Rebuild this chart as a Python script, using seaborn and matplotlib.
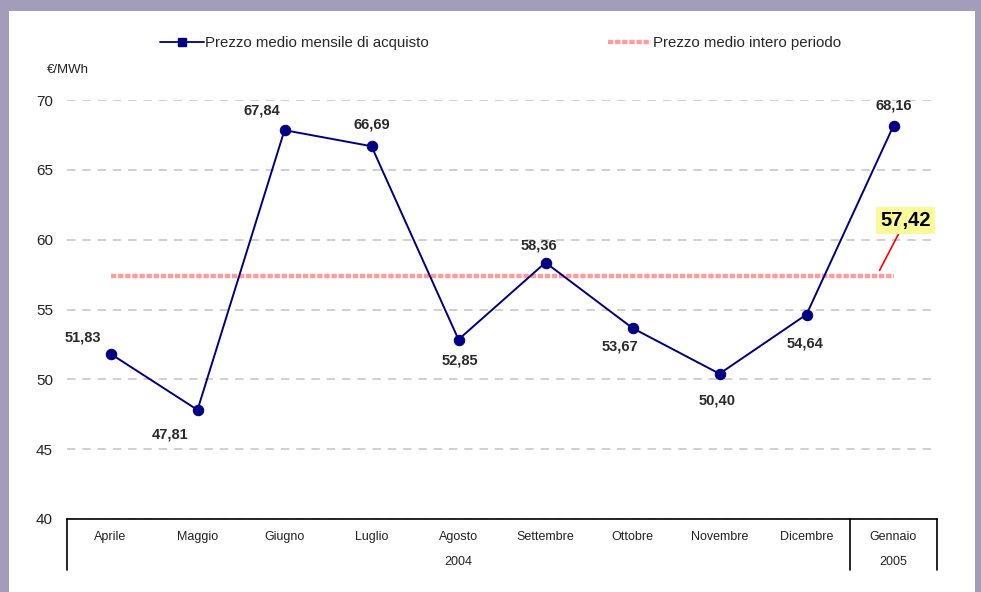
import pandas as pd
import matplotlib.pyplot as plt
import seaborn as sns
from matplotlib.lines import Line2D
from matplotlib.patches import Rectangle
import matplotlib.transforms as mtransforms

# Data
months = ["Aprile", "Maggio", "Giugno", "Luglio", "Agosto", "Settembre",
          "Ottobre", "Novembre", "Dicembre", "Gennaio"]
years = ["2004", "2005"]
prices = [51.83, 47.81, 67.84, 66.69, 52.85, 58.36, 53.67, 50.40, 54.64, 68.16]
mean_price = 57.42

df = pd.DataFrame({"pos": range(len(months)), "mese": months, "prezzo": prices,
                   "media": [mean_price] * len(months)})

# label offsets in points (dx, dy)
label_offsets = [(-20, 11.5), (-19.5, -18), (-16, 14.5), (0, 16), (1, -15),
                 (-5, 12), (-9, -13), (-2, -19), (-1, -21), (0, 14.5)]

sns.set_style("white")
plt.rcParams["font.family"] = ["Liberation Sans", "DejaVu Sans"]

W, H = 981, 592
fig = plt.figure(figsize=(W / 100, H / 100), dpi=100)
fig.patch.set_facecolor("#a49db9")
bg = Rectangle((9 / W, 0), (975 - 9) / W, (592 - 11) / H, transform=fig.transFigure,
               facecolor="white", edgecolor="none", zorder=-10)
fig.add_artist(bg)

ax = fig.add_axes([67 / W, 73 / H, (937 - 67) / W, (519 - 100) / H])
ax.set_facecolor("none")

NAVY = "#000080"
sns.lineplot(data=df, x="pos", y="media", ax=ax, color="#ff9c9c", linewidth=3.2,
             linestyle=(0, (1.2, 0.4)), zorder=2)
sns.lineplot(data=df, x="pos", y="prezzo", ax=ax, color=NAVY, linewidth=1.4,
             marker="o", markersize=7.5, markeredgecolor=NAVY, zorder=3)

for (i, v), (dx, dy) in zip(enumerate(prices), label_offsets):
    ax.annotate(f"{v:.2f}".replace(".", ","), (i, v), xytext=(dx, dy),
                textcoords="offset points", ha="center", va="center",
                fontsize=10.5, fontweight="bold", color="#2a2a2a")

# mean annotation
ax.annotate(f"{mean_price:.2f}".replace(".", ","), xy=(8.84, 57.8),
            xytext=(9.14, 61.4), ha="center", va="center", fontsize=14.5,
            fontweight="bold", color="black",
            bbox=dict(boxstyle="square,pad=0.2", facecolor="#fafa9a", edgecolor="none"),
            arrowprops=dict(arrowstyle="-", color="red", lw=1.2, shrinkA=0, shrinkB=0))

ax.set_xlim(-0.5, len(months) - 0.5)
ax.set_ylim(40, 70)
ax.set_yticks(range(40, 71, 5))
ax.yaxis.grid(True, linestyle=(0, (5.5, 4.5)), color="#c4c4c4", linewidth=1.1)
ax.set_axisbelow(True)
ax.tick_params(axis="y", length=0, pad=10, labelsize=11, labelcolor="#222222")
ax.set_xticks([])
ax.set_xlabel("")
ax.set_ylabel("")
for s in ["left", "right", "top"]:
    ax.spines[s].set_visible(False)
ax.spines["bottom"].set_color("black")
ax.spines["bottom"].set_linewidth(1.2)

# category table below axis
trans = mtransforms.blended_transform_factory(ax.transData, ax.transAxes)
depth = -(570 - 519) / (519 - 100)
for xv in [-0.5, len(months) - 1.5, len(months) - 0.5]:
    ax.plot([xv, xv], [0, depth], color="black", lw=1.2, transform=trans, clip_on=False)
for i, m in enumerate(months):
    ax.text(i, -(537 - 519) / 419, m, transform=trans, ha="center", va="center",
            fontsize=9, color="#222222")
ax.text((len(months) - 2) / 2, -(562 - 519) / 419, years[0], transform=trans,
        ha="center", va="center", fontsize=9, color="#222222")
ax.text(len(months) - 1, -(562 - 519) / 419, years[1], transform=trans,
        ha="center", va="center", fontsize=9, color="#222222")

fig.text(47 / W, 1 - 70 / H, "€/MWh", ha="left", va="center", fontsize=9.5, color="#222222")

# legend
handles = [Line2D([], [], color=NAVY, lw=1.3, marker="s", markersize=6),
           Line2D([], [], color="#ff9c9c", lw=3.2, linestyle=(0, (1.2, 0.4)))]
fig.legend(handles, ["Prezzo medio mensile di acquisto", "Prezzo medio intero periodo"],
           loc="center left", bbox_to_anchor=(160 / W, 1 - 43 / H), ncol=2, frameon=False,
           fontsize=10.8, handlelength=2.9, handletextpad=0.12, columnspacing=11.9,
           borderpad=0, borderaxespad=0)

fig.savefig("out.png", dpi=100)
